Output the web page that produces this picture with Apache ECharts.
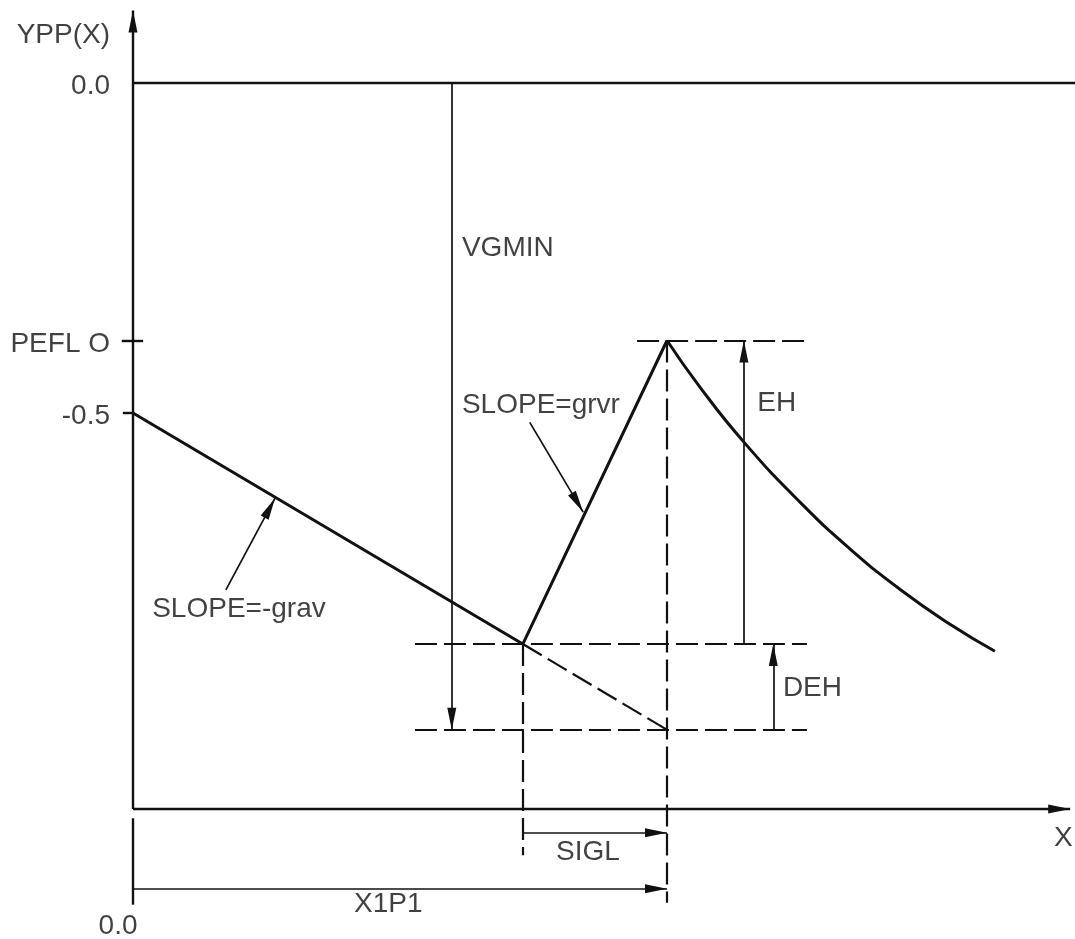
<!DOCTYPE html>
<html><head><meta charset="utf-8">
<script src="https://cdn.jsdelivr.net/npm/echarts@6/dist/echarts.min.js"></script>
<style>html,body{margin:0;padding:0;background:#fff}#c{width:1075px;height:939px}</style>
</head><body><div id="c"></div>
<script>
// Units: x measured in X1P1 units (X1P1 = 1.0), y in YPP units (0.0 top line, -0.5 tick)
const yTickLabels = ['0.0', 'PEFL O', '-0.5'];
const yTickValues = [0, -0.39, -0.5];

// Solid YPP(X) profile: slope -grav, then slope grvr up to PEFLO
const profileX = [0, 0.73, 1.0];
const profileY = [-0.5, -0.85, -0.39];

// Decay after the peak
const decayX = [1.0, 1.062, 1.144, 1.249, 1.343, 1.436, 1.530, 1.614];
const decayY = [-0.39, -0.461, -0.544, -0.635, -0.706, -0.767, -0.820, -0.861];

// Dashed continuation of slope -grav
const extensionX = [0.73, 1.0];
const extensionY = [-0.85, -0.98];

// Dashed guide lines [x1, y1, x2, y2]
const guideLines = [
  [0.944, -0.39, 1.262, -0.39],
  [0.528, -0.85, 1.262, -0.85],
  [0.528, -0.98, 1.262, -0.98],
  [0.73, -0.85, 0.73, -1.17],
  [1.0, -0.39, 1.0, -1.242]
];

// Dimension arrows [x1, y1, x2(head), y2(head)]
const dimNames = ['VGMIN', 'EH', 'DEH', 'SIGL', 'X1P1', 'leader -grav', 'leader grvr'];
const dimArrows = [
  [0.597, 0, 0.597, -0.98],
  [1.144, -0.85, 1.144, -0.39],
  [1.199, -0.98, 1.199, -0.85],
  [0.73, -1.136, 1.0, -1.136],
  [0, -1.221, 1.0, -1.221],
  [0.174, -0.768, 0.266, -0.629],
  [0.743, -0.514, 0.843, -0.650]
];

// Axis lines [x1, y1, x2, y2, arrow]
const axisLines = [
  [0, -1.10, 1.755, -1.10, true],   // X axis
  [0, -1.10, 0, 0.11, true],        // YPP axis
  [0, -1.114, 0, -1.245, false],    // extension below X axis
  [0, 0, 1.764, 0, false],          // 0.0 line
  [-0.021, -0.39, 0.019, -0.39, false], // PEFLO tick
  [-0.019, -0.5, 0, -0.5, false]        // -0.5 tick
];

// Text labels
const labelNames = ['YPP(X)', 'VGMIN', 'SLOPE=grvr', 'EH', 'DEH', 'SLOPE=-grav', 'SIGL', 'X1P1', '0.0', 'X'];
const labelX = [-0.043, 0.616, 0.616, 1.169, 1.217, 0.036, 0.852, 0.478, -0.028, 1.742];
const labelY = [0.073, -0.25, -0.488, -0.485, -0.917, -0.798, -1.165, -1.245, -1.277, -1.144];
const labelAnchor = ['left', 'right', 'right', 'right', 'right', 'right', 'inside', 'inside', 'inside', 'inside'];

const ARROW = 'path://M0,-2 L0,-2 M0,0 L1,2 L-1,2 Z';
const INK = '#111';
const FONT = 'Liberation Sans';

function seg(a, arrow) {
  return [
    { coord: [a[0], a[1]], symbol: 'none' },
    arrow ? { coord: [a[2], a[3]], symbol: ARROW, symbolSize: [9, 44] } : { coord: [a[2], a[3]], symbol: 'none' }
  ];
}
function mlBase(width, type, data) {
  return {
    silent: true, animation: false, symbol: ['none', 'none'],
    label: { show: false }, emphasis: { disabled: true },
    lineStyle: { color: INK, width: width, type: type, opacity: 1 },
    data: data
  };
}

const labelData = [];
labelNames.forEach((n, i) => labelData.push({ name: n, value: [labelX[i], labelY[i]], label: { position: labelAnchor[i] } }));
yTickLabels.forEach((n, i) => labelData.push({ name: n, value: [-0.043, yTickValues[i] - 0.005], label: { position: 'left' } }));

const chart = echarts.init(document.getElementById('c'), null, { renderer: 'canvas' });
chart.setOption({
  animation: false,
  backgroundColor: '#fff',
  grid: { left: 0, right: 0, top: 0, bottom: 0 },
  xAxis: { type: 'value', min: -0.249, max: 1.764, show: false },
  yAxis: { type: 'value', min: -1.297, max: 0.126, show: false },
  series: [
    {
      type: 'line', name: 'profile', symbol: 'none', silent: true,
      lineStyle: { color: INK, width: 3 },
      data: profileX.map((x, i) => [x, profileY[i]])
    },
    {
      type: 'line', name: 'decay', symbol: 'none', silent: true, smooth: 0.5,
      lineStyle: { color: INK, width: 3 },
      data: decayX.map((x, i) => [x, decayY[i]])
    },
    {
      type: 'line', name: 'extension', symbol: 'none', silent: true,
      lineStyle: { color: INK, width: 2.2, type: [22, 7] },
      data: extensionX.map((x, i) => [x, extensionY[i]])
    },
    {
      type: 'line', name: 'guides', data: [], silent: true,
      markLine: mlBase(2.2, [22, 7], guideLines.map(g => seg(g, false)))
    },
    {
      type: 'line', name: 'dims', data: [], silent: true,
      markLine: mlBase(1.7, 'solid', dimArrows.map(d => seg(d, true)))
    },
    {
      type: 'line', name: 'axes', data: [], silent: true,
      markLine: mlBase(2.4, 'solid', axisLines.map(a => seg(a, a[4])))
    },
    {
      type: 'scatter', name: 'labels', symbolSize: 0, silent: true, clip: false,
      data: labelData,
      label: {
        show: true, formatter: '{b}', distance: 0,
        color: '#111', fontFamily: FONT, fontSize: 28
      }
    }
  ]
});
</script>
</body></html>
